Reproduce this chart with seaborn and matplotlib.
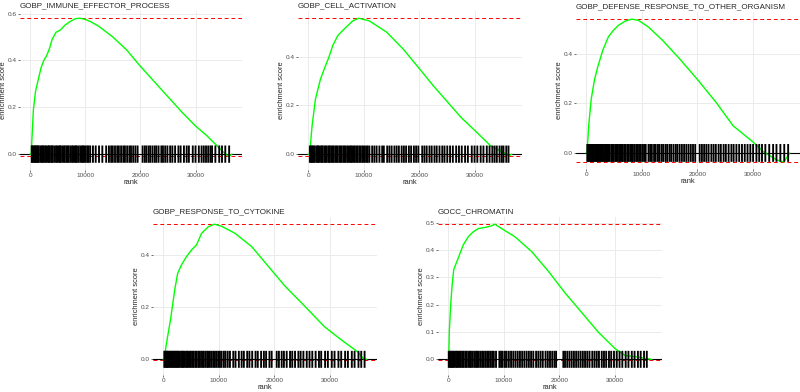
"""
GSEA running enrichment score plots for five GO terms
(fgsea plotEnrichment look: green running score, red dashed max/min,
black rug of gene-set hits along the ranked list).
"""

import numpy as np
import pandas as pd
import seaborn as sns
import matplotlib.pyplot as plt

# ---------------------------------------------------------
# Data (ranks in thousands)
# ---------------------------------------------------------
n_genes = 36.6  # length of the ranked gene list (thousands)

titles = [
    "GOBP_IMMUNE_EFFECTOR_PROCESS",
    "GOBP_CELL_ACTIVATION",
    "GOBP_DEFENSE_RESPONSE_TO_OTHER_ORGANISM",
    "GOBP_RESPONSE_TO_CYTOKINE",
    "GOCC_CHROMATIN",
]

# running enrichment score curves
p1_rank = [0, 0.2, 0.3, 0.6, 1.0, 1.5, 2.0, 2.5, 3.0, 3.5, 4.0, 4.7, 5.5, 6.3, 7.2, 8.2, 9.0,
           10.0, 11.0, 12.5, 15.0, 17.5, 20.0, 22.5, 25.0, 27.5, 30.0, 32.0, 33.5, 35.0, 36.0, 36.6]
p1_es = [0, -0.002, 0.05, 0.19, 0.27, 0.32, 0.37, 0.40, 0.42, 0.45, 0.49, 0.52, 0.53, 0.55, 0.565,
         0.578, 0.58, 0.575, 0.565, 0.545, 0.50, 0.445, 0.375, 0.31, 0.245, 0.18, 0.12, 0.08, 0.045,
         0.01, -0.01, 0]

p2_rank = [0, 0.25, 0.7, 1.3, 2.2, 3.1, 3.7, 4.4, 5.3, 5.9, 6.8, 8.0, 9.1, 11.0, 14.1, 17.1,
           20.0, 22.5, 25.0, 27.5, 30.0, 32.8, 35.3, 36.0, 36.6]
p2_es = [0, -0.002, 0.116, 0.225, 0.307, 0.362, 0.396, 0.444, 0.485, 0.50, 0.52, 0.546, 0.557,
         0.546, 0.50, 0.43, 0.35, 0.28, 0.215, 0.15, 0.096, 0.034, 0.004, -0.007, 0]

p3_rank = [0, 0.15, 0.45, 0.9, 1.5, 2.1, 3.0, 4.0, 4.9, 5.8, 7.0, 8.2, 9.4, 11.2, 13.7, 16.7,
           20.0, 23.4, 26.4, 30.0, 31.9, 34.3, 35.5, 36.0, 36.6]
p3_es = [0, 0.0, 0.11, 0.217, 0.297, 0.35, 0.416, 0.47, 0.496, 0.516, 0.533, 0.541, 0.536, 0.509,
         0.456, 0.383, 0.297, 0.203, 0.11, 0.044, 0.004, -0.029, -0.036, -0.02, 0]

p4_rank = [0, 0.2, 0.5, 0.9, 1.3, 1.7, 2.1, 2.6, 3.3, 4.2, 5.1, 6.0, 6.9, 8.1, 9.2, 10.5, 12.9,
           15.9, 18.9, 21.9, 25.4, 29.0, 32.0, 35.0, 36.0, 36.6]
p4_es = [0, -0.003, 0.05, 0.10, 0.15, 0.21, 0.27, 0.33, 0.363, 0.395, 0.42, 0.44, 0.484, 0.509,
         0.519, 0.511, 0.484, 0.433, 0.357, 0.281, 0.205, 0.125, 0.075, 0.028, 0.002, 0]

p5_rank = [0, 0.1, 0.2, 0.45, 0.7, 1.0, 1.8, 2.7, 3.6, 4.5, 5.4, 6.6, 7.8, 8.4, 9.6, 12.0, 15.0,
           18.0, 21.0, 24.0, 27.0, 30.0, 31.8, 34.2, 35.9, 36.6]
p5_es = [0, -0.003, 0.10, 0.20, 0.27, 0.328, 0.37, 0.418, 0.448, 0.466, 0.478, 0.482, 0.488, 0.494,
         0.478, 0.448, 0.394, 0.322, 0.243, 0.171, 0.099, 0.039, 0.014, 0.008, 0.002, 0]

# positions of the gene-set members in the ranked list
p1_hits = [0.3, 0.4, 0.6, 0.8, 0.9, 1.1, 1.3, 1.4, 1.6, 1.9, 2.1, 2.3, 2.4, 2.7, 2.9, 3.2, 3.4,
           3.5, 3.8, 4.0, 4.1, 4.4, 4.7, 4.9, 5.2, 5.4, 5.5, 5.8, 6.1, 6.3, 6.6, 6.8, 7.0, 7.3,
           7.6, 7.8, 8.1, 8.3, 8.5, 8.8, 9.1, 9.4, 9.6, 9.8, 10.1, 10.4, 10.6, 10.9,
           11.4, 11.9, 12.5, 13.1, 13.8, 14.3, 14.7, 15.0, 15.4, 15.8, 16.1, 16.5, 16.9, 17.2,
           17.6, 18.0, 18.3, 18.7, 19.1, 19.5,
           20.4, 20.8, 21.1, 21.5, 21.8, 22.2, 22.6, 22.9, 23.3, 23.8, 24.1, 24.5, 24.9, 25.4,
           25.8, 26.3, 26.9, 27.3, 27.9, 28.4, 28.8, 29.5, 30.0, 30.6, 31.1, 31.5, 31.9, 32.3,
           32.7, 33.0, 33.6, 34.3, 34.8, 35.4, 36.1]
p2_hits = [0.3, 0.5, 0.7, 0.8, 1.0, 1.2, 1.5, 1.7, 1.8, 2.0, 2.3, 2.5, 2.6, 2.9, 3.1, 3.3, 3.6,
           3.8, 3.9, 4.2, 4.4, 4.6, 4.9, 5.1, 5.3, 5.6, 5.8, 6.0, 6.3, 6.5, 6.7, 7.0, 7.2, 7.5,
           7.7, 7.9, 8.2, 8.4, 8.7, 8.9, 9.2, 9.4, 9.7, 9.9, 10.2, 10.5, 10.7, 11.0,
           11.5, 11.9, 12.3, 12.8, 13.3, 13.6, 14.2, 14.6, 15.0, 15.5, 15.9, 16.3, 16.8, 17.2,
           17.6, 18.1, 18.5, 19.0, 19.4, 19.8,
           20.5, 20.9, 21.3, 21.8, 22.2, 22.7, 23.1, 23.6, 24.1, 24.5, 25.0, 25.5, 26.0, 26.6,
           27.1, 27.6, 28.2, 28.7, 29.4, 29.9, 30.4, 31.0, 31.5, 32.1, 32.6, 33.1, 33.5, 33.9,
           34.4, 34.8, 35.1, 35.6, 36.0]
p3_hits = [0.2, 0.4, 0.5, 0.7, 0.9, 1.0, 1.2, 1.4, 1.6, 1.8, 2.0, 2.2, 2.4, 2.6, 2.8, 3.0, 3.2,
           3.4, 3.6, 3.8, 4.0, 4.2, 4.5, 4.7, 4.9, 5.2, 5.4, 5.6, 5.9, 6.1, 6.4, 6.6, 6.9, 7.1,
           7.4, 7.6, 7.9, 8.2, 8.4, 8.7, 9.0, 9.2, 9.5, 9.8, 10.1, 10.4, 10.7,
           11.2, 11.5, 11.8, 12.2, 12.5, 12.9, 13.2, 13.6, 13.9, 14.3, 14.6, 15.0, 15.3, 15.7,
           16.1, 16.4, 16.8, 17.2, 17.6, 18.0, 18.4, 18.8, 19.2, 19.6,
           20.4, 20.8, 21.2, 21.6, 22.0, 22.5, 22.9, 23.3, 23.8, 24.2, 24.7, 25.1, 25.6, 26.1,
           26.5, 27.0, 27.5, 28.0, 28.5, 29.0, 29.5, 30.0, 30.6, 31.1, 31.6, 32.2, 32.9, 33.6,
           34.2, 34.9, 35.6, 36.3]
p4_hits = [0.2, 0.4, 0.6, 0.7, 0.9, 1.1, 1.3, 1.5, 1.7, 1.9, 2.1, 2.3, 2.5, 2.7, 2.9, 3.2, 3.4,
           3.6, 3.8, 4.1, 4.3, 4.5, 4.8, 5.0, 5.3, 5.5, 5.8, 6.0, 6.3, 6.5, 6.8, 7.1, 7.3, 7.6,
           7.9, 8.1, 8.4, 8.7, 9.0, 9.3, 9.6, 9.9, 10.2, 10.5, 10.9, 11.2, 11.6, 12.0,
           12.6, 13.0, 13.6, 14.1, 14.5, 15.1, 15.5, 16.0, 16.6, 17.0, 17.6, 18.1, 18.5, 19.1,
           19.5,
           20.4, 20.8, 21.3, 21.7, 22.2, 22.8, 23.2, 23.7, 24.3, 24.7, 25.2, 25.8, 26.3, 26.8,
           27.4, 28.0, 28.4, 29.1, 29.6, 30.3, 30.8, 31.5, 32.0, 32.7, 33.2, 33.9, 34.4, 35.1,
           35.6, 36.2]
p5_hits = [0.1, 0.3, 0.5, 0.7, 0.9, 1.1, 1.4, 1.6, 1.8, 2.1, 2.3, 2.6, 2.8, 3.1, 3.3, 3.6, 3.9,
           4.1, 4.4, 4.7, 5.0, 5.2, 5.5, 5.8, 6.1, 6.4, 6.7, 7.0, 7.3, 7.6, 7.9, 8.2, 8.6, 9.2,
           9.5, 9.8, 10.2, 10.5, 10.9, 11.3, 11.7, 12.1, 12.5, 12.9, 13.3, 13.7, 14.1, 14.5,
           14.9, 15.3, 15.8, 16.2, 16.6, 17.0, 17.5, 17.9, 18.3, 18.7, 19.1, 19.4,
           20.7, 21.0, 21.4, 21.8, 22.2, 22.6, 23.0, 23.4, 23.8, 24.2, 24.6, 25.0, 25.4, 25.9,
           26.3, 26.7, 27.1, 27.6, 28.0, 28.4, 28.9, 29.3, 29.8, 30.3, 30.8, 31.3, 31.9, 32.4,
           33.0, 33.5, 34.1, 34.6, 35.2, 35.7]

x_ticks = [0, 10000, 20000, 30000]
y_ticks = [
    [0.0, 0.2, 0.4, 0.6],
    [0.0, 0.2, 0.4],
    [0.0, 0.2, 0.4],
    [0.0, 0.2, 0.4],
    [0.0, 0.1, 0.2, 0.3, 0.4, 0.5],
]

ranks = [p1_rank, p2_rank, p3_rank, p4_rank, p5_rank]
scores = [p1_es, p2_es, p3_es, p4_es, p5_es]
hits = [p1_hits, p2_hits, p3_hits, p4_hits, p5_hits]

# ---------------------------------------------------------
# Layout: panel boxes in pixels (left, top, right, bottom)
# 3 panels on top, 2 centred underneath
# ---------------------------------------------------------
W, H = 800, 392
boxes = [
    (20, 11, 242, 170),
    (298, 11, 522, 170),
    (576, 12, 800, 169),
    (153, 217, 377, 375),
    (438, 217, 662, 375),
]

sns.set_theme(style="whitegrid")
plt.rcParams["font.family"] = ["Liberation Sans", "DejaVu Sans"]

fig = plt.figure(figsize=(W / 100, H / 100), dpi=100)

for i, (l, t, r, b) in enumerate(boxes):
    ax = fig.add_axes([l / W, 1 - b / H, (r - l) / W, (b - t) / H])

    df = pd.DataFrame({"rank": np.array(ranks[i]) * 1000, "es": scores[i]})
    top, bottom = df["es"].max(), df["es"].min()
    tick_h = (top - bottom) / 8  # rug height as in fgsea

    ax.axhline(top, color="red", linestyle=(0, (4, 3)), linewidth=0.7, zorder=1)
    ax.axhline(bottom, color="red", linestyle=(0, (4, 3)), linewidth=0.7, zorder=1)
    ax.axhline(0, color="black", linewidth=0.8, zorder=1)

    sns.lineplot(data=df, x="rank", y="es", color="#00FF00", linewidth=1.0,
                 sort=False, ax=ax, zorder=2)

    rug = ax.vlines(np.array(hits[i]) * 1000, -tick_h / 2, tick_h / 2,
                    colors="black", linewidth=1.35, zorder=3)
    rug.set_snap(False)

    ax.margins(x=0.05, y=0.05)
    ax.set_xticks(x_ticks)
    ax.set_xticklabels([str(v) for v in x_ticks])
    ax.set_yticks(y_ticks[i])
    ax.set_yticklabels([f"{v:.1f}" for v in y_ticks[i]])

    for s in ax.spines.values():
        s.set_visible(False)
    ax.set_facecolor("white")
    ax.grid(True, color="#EBEBEB", linewidth=0.7)
    ax.set_axisbelow(True)
    ax.tick_params(axis="both", which="major", bottom=True, left=True, length=1.3,
                   width=0.5, color="#333333", labelcolor="#4D4D4D", labelsize=4.6, pad=1)

    ax.set_xlabel("rank", fontsize=5.4, labelpad=0.5)
    ax.set_ylabel("enrichment score", fontsize=5.4, labelpad=0.6)
    ax.set_title(titles[i], loc="left", fontsize=5.8, pad=2.5)

fig.savefig("out.png", dpi=100)
